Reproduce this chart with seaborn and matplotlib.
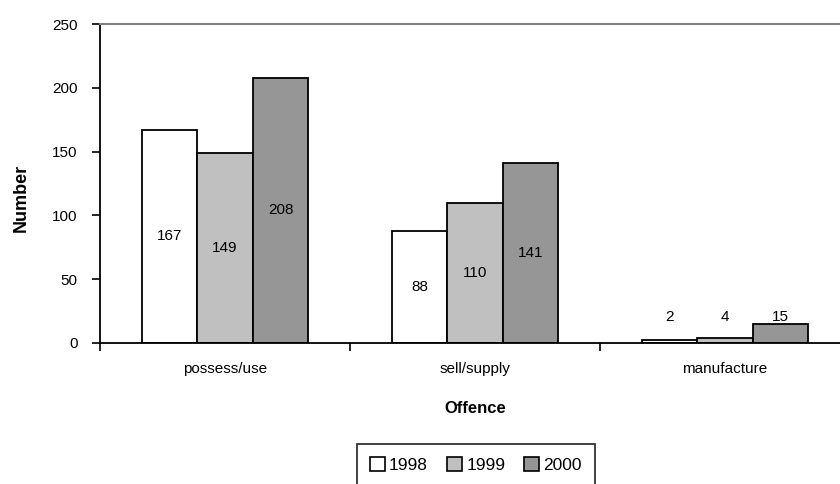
import matplotlib
matplotlib.use("Agg")
import matplotlib.pyplot as plt
import seaborn as sns
import pandas as pd
from matplotlib.patches import Patch

categories = ["possess/use", "sell/supply", "manufacture"]
years = ["1998", "1999", "2000"]
v1998 = [167, 88, 2]
v1999 = [149, 110, 4]
v2000 = [208, 141, 15]
colors = ["#FFFFFF", "#C0C0C0", "#969696"]

rows = []
for yr, vals in zip(years, [v1998, v1999, v2000]):
    for c, v in zip(categories, vals):
        rows.append({"Offence": c, "Year": yr, "Number": v})
df = pd.DataFrame(rows)

sns.set_theme(style="white")
plt.rcParams['font.family'] = ['Liberation Sans', 'DejaVu Sans']
plt.rcParams['text.color'] = 'black'
plt.rcParams['axes.labelcolor'] = 'black'
plt.rcParams['xtick.color'] = 'black'
plt.rcParams['ytick.color'] = 'black'

fig = plt.figure(figsize=(8.4, 4.84), dpi=100)
W, H = 840, 484
ax = fig.add_axes([100 / W, 1 - 343 / H, 750 / W, 319 / H])

sns.barplot(data=df, x="Offence", y="Number", hue="Year", order=categories,
            hue_order=years, palette=colors, width=0.667, edgecolor="black",
            linewidth=1.3, ax=ax, legend=False, saturation=1)

ax.set_xlim(-0.5, 2.5)
ax.set_ylim(0, 250)
ax.set_yticks([0, 50, 100, 150, 200, 250])
ax.set_yticklabels(["0", "50", "100", "150", "200", "250"], fontsize=11)
ax.set_xticks([0, 1, 2])
ax.set_xticklabels(categories, fontsize=11)
ax.set_xticks([-0.5, 0.5, 1.5, 2.5], minor=True)
ax.tick_params(axis="x", which="major", bottom=True, length=0, pad=14)
ax.tick_params(axis="x", which="minor", bottom=True, length=6, width=1.2,
               color="black", direction="out")
ax.tick_params(axis="y", left=True, length=6, width=1.2, color="black",
               direction="out", pad=10)

for s in ["left", "bottom"]:
    ax.spines[s].set_color("black")
    ax.spines[s].set_linewidth(1.3)
ax.spines["right"].set_visible(False)
ax.spines["top"].set_visible(True)
ax.spines["top"].set_color("#808080")
ax.spines["top"].set_linewidth(1.5)

# value labels
for cont in ax.containers:
    for bar in cont:
        h = bar.get_height()
        x = bar.get_x() + bar.get_width() / 2
        y = max(h / 2, 20)
        ax.text(x, y, f"{int(round(h))}", ha="center", va="center",
                fontsize=11, color="black")

ax.set_xlabel("Offence", fontsize=12, fontweight="bold", labelpad=18)
ax.set_ylabel("Number", fontsize=13, fontweight="bold")
ax.yaxis.set_label_coords(-0.093, 0.455)

handles = [Patch(facecolor=c, edgecolor="black", linewidth=1.2) for c in colors]
leg = fig.legend(handles, years, loc="lower left", bbox_to_anchor=(357 / W, -2 / H),
                 ncol=3, frameon=True, fontsize=12.5, handlelength=0.85,
                 handleheight=0.85, handletextpad=0.25, columnspacing=1.1,
                 borderpad=0.75, borderaxespad=0, fancybox=False)
leg.get_frame().set_edgecolor("black")
leg.get_frame().set_linewidth(1.3)

fig.savefig("out.png", dpi=100)
